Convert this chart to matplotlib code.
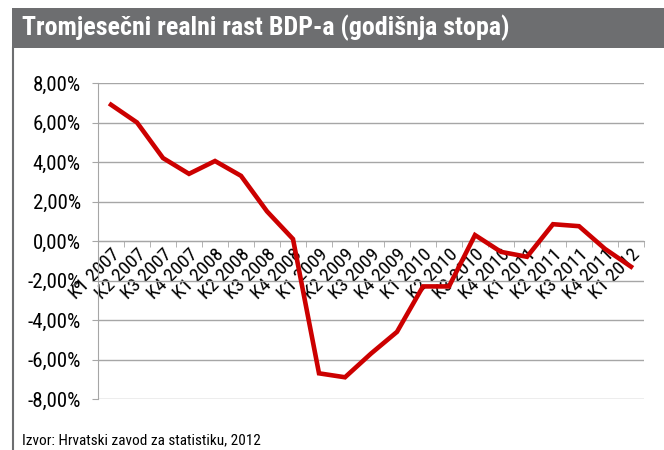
import matplotlib.pyplot as plt
from matplotlib.patches import Rectangle
from matplotlib.lines import Line2D
from matplotlib.ticker import FuncFormatter, FixedLocator

# data
quarters = ['K1 2007', 'K2 2007', 'K3 2007', 'K4 2007',
            'K1 2008', 'K2 2008', 'K3 2008', 'K4 2008',
            'K1 2009', 'K2 2009', 'K3 2009', 'K4 2009',
            'K1 2010', 'K2 2010', 'K3 2010', 'K4 2010',
            'K1 2011', 'K2 2011', 'K3 2011', 'K4 2011',
            'K1 2012']
growth = [6.9, 6.0, 4.2, 3.4,
          4.05, 3.3, 1.5, 0.1,
          -6.7, -6.9, -5.7, -4.6,
          -2.3, -2.3, 0.3, -0.55,
          -0.8, 0.85, 0.75, -0.4,
          -1.3]
y_ticks = [-8, -6, -4, -2, 0, 2, 4, 6, 8]

plt.rcParams['font.family'] = ['Roboto Condensed', 'Archivo Narrow', 'DejaVu Sans']

fig = plt.figure(figsize=(6.64, 4.5), dpi=100)

# title bar + left frame line
fig.add_artist(Rectangle((12 / 664, 1 - 48 / 450), 1 - 12 / 664, 40 / 450,
                         transform=fig.transFigure, facecolor='#6d6e70',
                         edgecolor='none'))
fig.add_artist(Line2D([13 / 664, 13 / 664], [0, 1 - 48 / 450],
                      transform=fig.transFigure, color='#6d6e70', lw=1.5))
fig.text(22 / 664, 1 - 28 / 450, 'Tromjesečni realni rast BDP-a (godišnja stopa)',
         color='white', fontsize=18.7, fontweight='bold', va='center', ha='left')
fig.text(22 / 664, 1 - 440 / 450, 'Izvor: Hrvatski zavod za statistiku, 2012',
         fontsize=11, va='center', ha='left')

ax = fig.add_axes([98 / 664, 1 - 399 / 450, (644 - 98) / 664, (399 - 83) / 450])
x = list(range(len(quarters)))
ax.plot(x, growth, color='#cc0000', lw=3.3, solid_joinstyle='miter', zorder=3)

ax.set_xlim(-0.5, len(quarters) - 0.5)
ax.set_ylim(-8, 8)
ax.set_yticks(y_ticks)
ax.yaxis.set_major_formatter(FuncFormatter(lambda v, p: f'{v:.2f}%'.replace('.', ',')))
ax.grid(axis='y', color='#a6a6a6', lw=1)
ax.set_axisbelow(True)

for s in ['top', 'right']:
    ax.spines[s].set_visible(False)
ax.spines['left'].set_color('#a6a6a6')
ax.spines['bottom'].set_color('#a6a6a6')
ax.spines['bottom'].set_position(('data', 0))

ax.tick_params(axis='y', length=4.5, color='#a6a6a6', labelsize=15, pad=8)
ax.set_xticks(x)
ax.set_xticklabels(quarters, rotation=45, ha='right', va='top',
                   rotation_mode='anchor', fontsize=14)
ax.tick_params(axis='x', which='major', length=0, pad=3)
ax.xaxis.set_minor_locator(FixedLocator([i - 0.5 for i in range(len(quarters) + 1)]))
ax.tick_params(axis='x', which='minor', length=4, color='#a6a6a6')

fig.savefig('out.png', dpi=100)
